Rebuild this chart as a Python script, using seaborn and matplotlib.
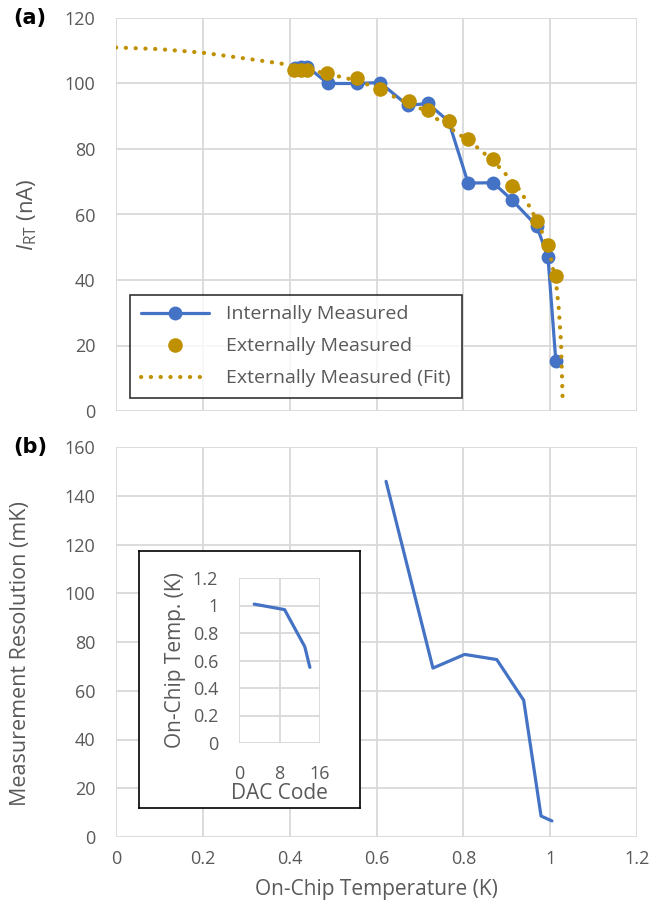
import matplotlib
matplotlib.use("Agg")
import matplotlib.pyplot as plt
import seaborn as sns
import pandas as pd
from matplotlib.lines import Line2D

# (a) internally / externally measured current vs on-chip temperature
int_temp = [0.412, 0.425, 0.441, 0.488, 0.555, 0.608, 0.672, 0.718, 0.766, 0.811, 0.869, 0.913, 0.969, 0.995, 1.013]
int_irt = [104.6, 105.0, 105.1, 100.0, 100.0, 100.3, 93.3, 93.9, 88.5, 69.6, 69.7, 64.3, 56.5, 46.9, 15.3]

ext_temp = [0.409, 0.425, 0.440, 0.487, 0.555, 0.607, 0.674, 0.718, 0.766, 0.810, 0.869, 0.913, 0.969, 0.995, 1.013]
ext_irt = [104.1, 104.0, 104.1, 103.3, 101.8, 98.2, 94.8, 91.9, 88.5, 83.2, 76.9, 68.8, 58.0, 50.7, 41.2]

fit_temp = [0.0, 0.1, 0.2, 0.3, 0.38, 0.45, 0.5, 0.55, 0.6, 0.64, 0.7, 0.74, 0.8, 0.83, 0.87,
            0.9, 0.93, 0.95, 0.97, 0.98, 0.99, 1.0, 1.005, 1.01, 1.015, 1.02, 1.025, 1.029]
fit_irt = [111.0, 110.5, 109.4, 107.6, 106.1, 104.0, 102.6, 101.0, 98.8, 96.0, 92.5, 89.1, 83.6, 80.7, 76.2,
           72.0, 67.5, 63.0, 58.0, 55.0, 51.5, 48.0, 44.5, 41.0, 37.5, 31.0, 21.0, 2.0]

# (b) measurement resolution
res_temp = [0.622, 0.730, 0.803, 0.877, 0.939, 0.979, 1.004]
res_mk = [145.9, 69.3, 74.9, 72.8, 56.1, 8.6, 6.6]

# inset: DAC code vs on-chip temperature
dac_code = [3, 9, 13, 14]
dac_temp = [1.01, 0.97, 0.70, 0.55]

BLUE = "#4472C4"
GOLD = "#BF9000"
GRID = "#D9D9D9"
TXT = "#595959"

sns.set_theme(style="white")
plt.rcParams["font.family"] = ["Open Sans", "DejaVu Sans"]
plt.rcParams["mathtext.fontset"] = "custom"
plt.rcParams["mathtext.rm"] = "Open Sans"
plt.rcParams["mathtext.it"] = "Open Sans:italic"
FS_TICK = 13
FS_LAB = 15
FS_LEG = 14

fig = plt.figure(figsize=(6.6, 9.14), dpi=100)
ax1 = fig.add_axes([116 / 660, 1 - 411 / 914, 521 / 660, 393 / 914])
ax2 = fig.add_axes([116 / 660, 1 - 837 / 914, 521 / 660, 390 / 914])


def style(ax):
    ax.grid(True, color=GRID, linewidth=1.3)
    ax.set_axisbelow(True)
    for s in ax.spines.values():
        s.set_visible(False)
    ax.tick_params(axis="both", colors=TXT, labelsize=FS_TICK, length=0)
    ax.tick_params(axis="y", pad=15)
    ax.tick_params(axis="x", pad=9)


df_int = pd.DataFrame({"T": int_temp, "I": int_irt})
df_ext = pd.DataFrame({"T": ext_temp, "I": ext_irt})
df_fit = pd.DataFrame({"T": fit_temp, "I": fit_irt})

sns.lineplot(data=df_int, x="T", y="I", ax=ax1, color=BLUE, linewidth=2.3, sort=False,
             marker="o", markersize=10, markeredgewidth=0, zorder=3)
sns.scatterplot(data=df_ext, x="T", y="I", ax=ax1, color=GOLD, s=110, linewidth=0, zorder=4)
sns.lineplot(data=df_fit, x="T", y="I", ax=ax1, color=GOLD, linewidth=3, sort=False,
             linestyle=(0, (0.05, 2.3)), dash_capstyle="round", zorder=5)
style(ax1)
ax1.set_xlim(0, 1.2)
ax1.set_ylim(0, 120)
ax1.set_xticks([0, 0.2, 0.4, 0.6, 0.8, 1.0, 1.2])
ax1.set_xticklabels([])
ax1.set_yticks(range(0, 121, 20))
ax1.set_xlabel("")
ax1.set_ylabel(r"$I_{\mathrm{RT}}$ (nA)", fontsize=FS_LAB + 1, color=TXT)
ax1.yaxis.set_label_coords(-0.148, 0.5)

handles = [
    Line2D([], [], color=BLUE, linewidth=2.3, marker="o", markersize=10, markeredgewidth=0),
    Line2D([], [], color=GOLD, linestyle="none", marker="o", markersize=10.5, markeredgewidth=0),
    Line2D([], [], color=GOLD, linewidth=3, linestyle=(0, (0.05, 2.3)), dash_capstyle="round"),
]
leg = ax1.legend(handles, ["Internally Measured", "Externally Measured", "Externally Measured (Fit)"],
                 loc="lower left", bbox_to_anchor=(0.027, 0.033), borderaxespad=0,
                 fontsize=FS_LEG, frameon=True, fancybox=False, edgecolor="black",
                 handlelength=3.5, handletextpad=0.9, labelspacing=0.72, borderpad=0.55)
leg.get_frame().set_linewidth(1.2)
for t in leg.get_texts():
    t.set_color(TXT)

df_res = pd.DataFrame({"T": res_temp, "R": res_mk})
sns.lineplot(data=df_res, x="T", y="R", ax=ax2, color=BLUE, linewidth=2.3, sort=False)
style(ax2)
ax2.set_xlim(0, 1.2)
ax2.set_ylim(0, 160)
ax2.set_xticks([0, 0.2, 0.4, 0.6, 0.8, 1.0, 1.2])
ax2.set_xticklabels(["0", "0.2", "0.4", "0.6", "0.8", "1", "1.2"])
ax2.set_yticks(range(0, 161, 20))
ax2.set_xlabel("On-Chip Temperature (K)", fontsize=FS_LAB, color=TXT, labelpad=8)
ax2.set_ylabel("Measurement Resolution (mK)", fontsize=FS_LAB + 0.5, color=TXT)
ax2.yaxis.set_label_coords(-0.163, 0.47)

# inset frame
box = fig.add_axes([139 / 660, 1 - 808 / 914, 221 / 660, 257 / 914])
box.set_xticks([])
box.set_yticks([])
box.set_facecolor("white")
for s in box.spines.values():
    s.set_color("black")
    s.set_linewidth(1.2)

ax3 = fig.add_axes([239 / 660, 1 - 743 / 914, 81 / 660, 165 / 914])
df_dac = pd.DataFrame({"code": dac_code, "temp": dac_temp})
sns.lineplot(data=df_dac, x="code", y="temp", ax=ax3, color=BLUE, linewidth=2.3, sort=False)
style(ax3)
ax3.set_xlim(0, 16)
ax3.set_ylim(0, 1.2)
ax3.set_xticks([0, 8, 16])
ax3.set_yticks([0, 0.2, 0.4, 0.6, 0.8, 1.0, 1.2])
ax3.set_yticklabels(["0", "0.2", "0.4", "0.6", "0.8", "1", "1.2"])
ax3.tick_params(axis="x", pad=16)
ax3.set_xlabel("DAC Code", fontsize=FS_LAB, color=TXT, labelpad=0)
ax3.set_ylabel("On-Chip Temp. (K)", fontsize=FS_LAB, color=TXT, labelpad=5)

fig.text(13 / 660, 1 - 18 / 914, "(a)", fontsize=15, fontweight="bold", color="black",
         va="center", family="DejaVu Sans")
fig.text(13 / 660, 1 - 447 / 914, "(b)", fontsize=15, fontweight="bold", color="black",
         va="center", family="DejaVu Sans")

fig.savefig("out.png", dpi=100)
